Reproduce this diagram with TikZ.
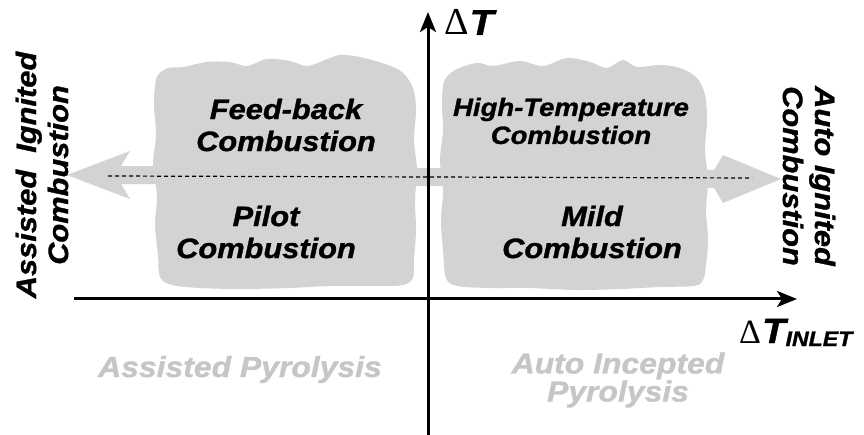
\documentclass[tikz,border=0pt]{standalone}
\usepackage{fontspec}
\newfontfamily\hv[FakeStretch=1.1,FakeBold=1.2]{Liberation Sans}
\newfontfamily\tm{Liberation Serif}
\usetikzlibrary{arrows.meta}
\definecolor{blobgray}{HTML}{D3D3D3}
\definecolor{txtgray}{HTML}{C6C6C6}
\begin{document}
\begin{tikzpicture}[x=1pt,y=-1pt,
  lbl/.style={font={\hv\bfseries\itshape\fontsize{28}{32}\selectfont}, align=center, inner sep=0pt},
  lblsmall/.style={font={\hv\bfseries\itshape\fontsize{25}{28}\selectfont}, align=center, inner sep=0pt},
  side/.style={font={\hv\bfseries\itshape\fontsize{28}{32}\selectfont}, align=center, inner sep=0pt},
  pyro/.style={font={\hv\bfseries\itshape\fontsize{29}{27}\selectfont}, align=center, inner sep=0pt, text=txtgray},
  axis/.style={line width=3pt, -{Stealth[length=20pt,width=16pt,inset=5pt]}},
  blob/.style={fill=blobgray},
  midline/.style={line width=1.2pt, dash pattern=on 4pt off 3pt}]
\useasboundingbox (0,0) rectangle (864,435);
% double block arrow
\fill[blobgray] (67,175) -- (130,151) -- (121,166) -- (714,170) -- (723,155) -- (781,179)
  -- (723,203) -- (714,188) -- (121,184) -- (130,199) -- cycle;
% blobs
\fill[blob] plot[smooth cycle, tension=0.55] coordinates {
 (158,75) (168,68) (183,67) (207,62) (230,62) (247,66) (267,59) (290,61) (307,66) (325,60)
 (340,55) (360,57) (385,64) (402,72) (413,88)
 (416,110) (414,140) (417,170) (415,200) (416,230) (414,260) (413,278)
 (403,285) (380,286) (330,286) (290,288) (240,289) (200,288) (172,285) (160,277)
 (158,255) (155,225) (157,195) (153,165) (156,135) (154,105) (155,86)};
\fill[blob] plot[smooth cycle, tension=0.55] coordinates {
 (444,82) (455,70) (477,63) (493,66) (520,61) (543,66) (567,58) (590,62) (607,68) (623,60)
 (637,67) (660,65) (680,68) (697,78) (705,95)
 (707,120) (705,150) (708,180) (706,210) (708,240) (706,265) (703,280)
 (694,286) (660,287) (620,289) (575,290) (530,288) (490,288) (457,286) (446,278)
 (443,250) (441,220) (443,190) (440,160) (443,130) (442,105)};
% dashed mid line
\coordinate (dl) at (108,176);
\coordinate (dr) at (752,178);
\draw[midline] (dl) -- (dr);
% blob labels
\node[lbl] (fb) at (286,125) {Feed-back\\Combustion};
\node[lbl] (pc) at (266,232) {Pilot\\Combustion};
\node[lblsmall] (ht) at (571,121) {High-Temperature\\Combustion};
\node[lbl] (mc) at (592,232) {Mild\\Combustion};
% side labels
\node[side, rotate=90] (aic) at (42,175) {Assisted~~Ignited\\Combustion};
\node[side, rotate=-90] (auic) at (809,176) {Auto Ignited\\Combustion};
% pyrolysis labels
\node[pyro, anchor=base] (ap) at (240,377) {Assisted Pyrolysis};
\node[pyro] (aip) at (618,380) {Auto Incepted\\Pyrolysis};
% axes
\coordinate (vb) at (428,435);
\coordinate (vt) at (428,12);
\coordinate (hl) at (74,299);
\coordinate (hr) at (797,299);
\draw[axis] (vb) -- (vt);
\draw[axis] (hl) -- (hr);
% axis labels
\node[anchor=base west, inner sep=0pt] (dt) at (444,35) {{\tm\fontsize{38}{40}\selectfont\char"0394}\hspace{1pt}{\hv\bfseries\itshape\fontsize{36}{38}\selectfont T}};
\node[anchor=base west, inner sep=0pt] (dti) at (739,343) {{\tm\fontsize{34}{36}\selectfont\char"0394}\hspace{1pt}{\hv\bfseries\itshape\fontsize{35}{36}\selectfont T}\raisebox{-3pt}{\hv\bfseries\itshape\fontsize{21}{22}\selectfont INLET}};
\end{tikzpicture}
\end{document}
